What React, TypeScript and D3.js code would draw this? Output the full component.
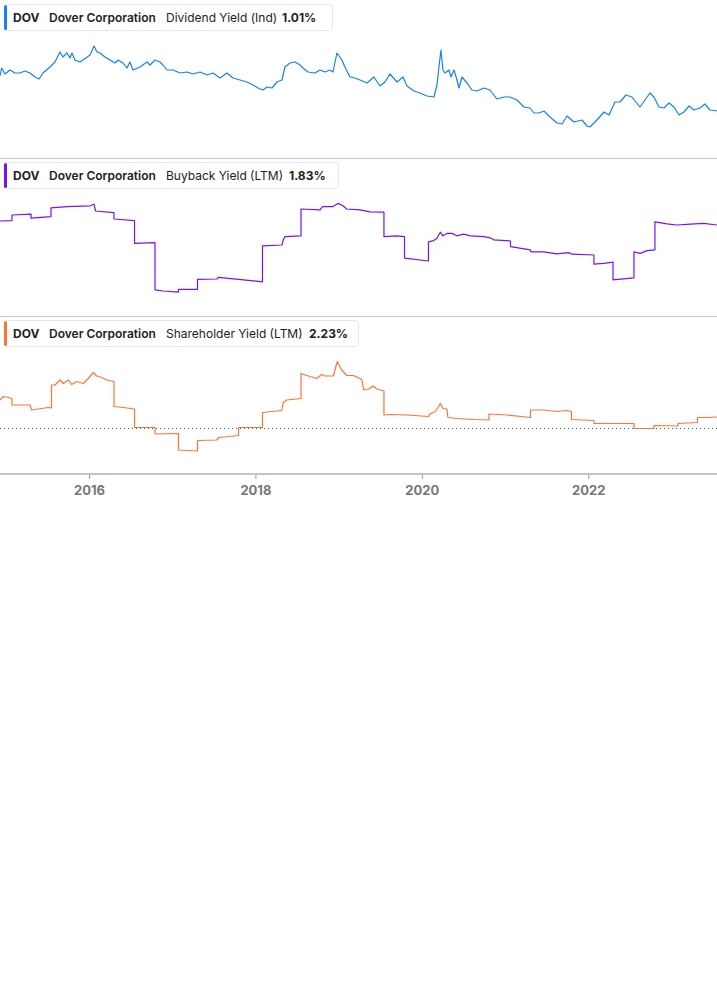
import React, { useEffect } from "react";
import * as d3 from "d3";

// x in decimal years, y in percent
const yearDomain = [2014.924, 2023.542];
const tickYears = [2016, 2018, 2020, 2022];

const dividendYield: [number, number][] = [
  [2014.924, 1.71], [2014.944, 1.87], [2014.984, 1.75], [2015.044, 1.83], [2015.104, 1.77],
  [2015.164, 1.77], [2015.224, 1.81], [2015.285, 1.77], [2015.345, 1.69], [2015.393, 1.65],
  [2015.441, 1.77], [2015.525, 1.89], [2015.585, 1.99], [2015.645, 2.19], [2015.681, 2.09],
  [2015.729, 2.17], [2015.765, 2.07], [2015.789, 2.17], [2015.825, 2.03], [2015.886, 1.99],
  [2015.958, 2.07], [2016.006, 2.13], [2016.054, 2.31], [2016.09, 2.19], [2016.126, 2.17],
  [2016.186, 2.09], [2016.246, 2.03], [2016.306, 1.97], [2016.342, 2.03], [2016.402, 1.97],
  [2016.45, 1.87], [2016.486, 1.99], [2016.522, 1.83], [2016.607, 1.89], [2016.691, 1.99],
  [2016.727, 1.93], [2016.787, 2.03], [2016.847, 1.99], [2016.883, 1.93], [2016.931, 1.83],
  [2017.003, 1.83], [2017.087, 1.77], [2017.172, 1.79], [2017.244, 1.75], [2017.328, 1.79],
  [2017.412, 1.73], [2017.484, 1.77], [2017.568, 1.67], [2017.652, 1.77], [2017.724, 1.67],
  [2017.809, 1.63], [2017.893, 1.59], [2017.965, 1.53], [2018.025, 1.47], [2018.085, 1.43],
  [2018.133, 1.49], [2018.193, 1.47], [2018.253, 1.59], [2018.313, 1.63], [2018.349, 1.89],
  [2018.409, 1.97], [2018.469, 1.99], [2018.53, 1.93], [2018.566, 1.87], [2018.626, 1.79],
  [2018.71, 1.77], [2018.77, 1.83], [2018.83, 1.79], [2018.89, 1.83], [2018.926, 1.79],
  [2018.974, 2.17], [2019.034, 2.03], [2019.07, 1.89], [2019.131, 1.69], [2019.191, 1.67],
  [2019.251, 1.63], [2019.335, 1.57], [2019.419, 1.69], [2019.491, 1.51], [2019.551, 1.59],
  [2019.611, 1.75], [2019.696, 1.59], [2019.768, 1.69], [2019.816, 1.51], [2019.9, 1.41],
  [2019.972, 1.37], [2020.056, 1.31], [2020.14, 1.29], [2020.176, 1.53], [2020.2, 1.89],
  [2020.224, 2.23], [2020.248, 1.83], [2020.272, 1.77], [2020.32, 1.83], [2020.345, 1.69],
  [2020.381, 1.83], [2020.417, 1.63], [2020.441, 1.47], [2020.477, 1.69], [2020.537, 1.57],
  [2020.597, 1.43], [2020.657, 1.41], [2020.741, 1.47], [2020.813, 1.43], [2020.897, 1.25],
  [2020.982, 1.29], [2021.054, 1.29], [2021.138, 1.23], [2021.222, 1.09], [2021.294, 1.07],
  [2021.342, 0.97], [2021.402, 0.97], [2021.462, 1.01], [2021.534, 0.89], [2021.619, 0.77],
  [2021.679, 0.75], [2021.739, 0.91], [2021.823, 0.79], [2021.919, 0.83], [2021.979, 0.71],
  [2022.015, 0.69], [2022.099, 0.83], [2022.184, 0.99], [2022.244, 0.93], [2022.316, 1.19],
  [2022.376, 1.19], [2022.448, 1.33], [2022.52, 1.29], [2022.616, 1.09], [2022.676, 1.23],
  [2022.736, 1.37], [2022.784, 1.29], [2022.844, 1.09], [2022.904, 1.07], [2022.965, 1.17],
  [2023.025, 1.09], [2023.085, 0.93], [2023.145, 0.99], [2023.205, 1.11], [2023.265, 1.03],
  [2023.337, 1.07], [2023.397, 1.15], [2023.457, 1.03], [2023.542, 1.01],
];

const buybackYield: [number, number][] = [
  [2014.924, 1.93], [2015.068, 1.94], [2015.068, 2.08], [2015.297, 2.10], [2015.297, 2.0],
  [2015.537, 2.04], [2015.537, 2.26], [2015.729, 2.29], [2016.006, 2.31], [2016.054, 2.35],
  [2016.072, 2.18], [2016.294, 2.14], [2016.294, 1.98], [2016.541, 1.94], [2016.541, 1.37],
  [2016.787, 1.39], [2016.787, 0.21], [2016.883, 0.18], [2017.069, 0.15], [2017.069, 0.22],
  [2017.298, 0.22], [2017.298, 0.47], [2017.532, 0.48], [2017.548, 0.52], [2018.079, 0.41],
  [2018.079, 1.31], [2018.313, 1.33], [2018.329, 1.46], [2018.349, 1.54], [2018.542, 1.56],
  [2018.542, 2.23], [2018.77, 2.21], [2018.802, 2.29], [2018.926, 2.29], [2018.986, 2.37],
  [2019.046, 2.31], [2019.091, 2.23], [2019.251, 2.21], [2019.371, 2.16], [2019.539, 2.15],
  [2019.539, 1.54], [2019.696, 1.56], [2019.786, 1.54], [2019.786, 1.0], [2020.074, 0.93],
  [2020.074, 1.41], [2020.137, 1.44], [2020.176, 1.5], [2020.216, 1.65], [2020.248, 1.56],
  [2020.296, 1.62], [2020.357, 1.62], [2020.417, 1.56], [2020.497, 1.6], [2020.577, 1.56],
  [2020.738, 1.54], [2020.817, 1.51], [2020.858, 1.46], [2021.06, 1.43], [2021.06, 1.29],
  [2021.298, 1.21], [2021.306, 1.16], [2021.459, 1.16], [2021.619, 1.11], [2021.759, 1.14],
  [2021.799, 1.1], [2022.063, 1.08], [2022.063, 0.85], [2022.18, 0.87], [2022.292, 0.9],
  [2022.292, 0.46], [2022.544, 0.51], [2022.544, 1.16], [2022.62, 1.12], [2022.7, 1.19],
  [2022.796, 1.21], [2022.796, 1.91], [2022.94, 1.86], [2023.061, 1.83], [2023.221, 1.85],
  [2023.382, 1.87], [2023.542, 1.83],
];

const shareholderYield: [number, number][] = [
  [2014.924, 2.57], [2014.964, 2.64], [2015.024, 2.62], [2015.068, 2.6], [2015.068, 2.47],
  [2015.285, 2.47], [2015.303, 2.37], [2015.505, 2.42], [2015.543, 2.41], [2015.543, 2.87],
  [2015.585, 2.87], [2015.645, 2.97], [2015.685, 2.9], [2015.745, 2.97], [2015.786, 2.88],
  [2015.846, 2.94], [2015.925, 2.9], [2015.985, 3.0], [2016.045, 3.12], [2016.086, 3.05],
  [2016.146, 3.02], [2016.206, 2.97], [2016.294, 2.94], [2016.294, 2.44], [2016.406, 2.42],
  [2016.541, 2.39], [2016.541, 2.02], [2016.787, 2.02], [2016.787, 1.89], [2017.069, 1.9],
  [2017.069, 1.57], [2017.298, 1.55], [2017.298, 1.76], [2017.528, 1.77], [2017.556, 1.82],
  [2017.791, 1.86], [2017.791, 2.02], [2018.079, 2.02], [2018.079, 2.32], [2018.31, 2.36],
  [2018.329, 2.52], [2018.37, 2.57], [2018.542, 2.6], [2018.542, 3.1], [2018.65, 3.04],
  [2018.73, 3.0], [2018.79, 3.08], [2018.83, 3.05], [2018.93, 3.05], [2018.978, 3.34],
  [2019.031, 3.17], [2019.091, 3.06], [2019.17, 3.06], [2019.251, 3.0], [2019.275, 2.97],
  [2019.295, 2.77], [2019.355, 2.79], [2019.407, 2.85], [2019.455, 2.79], [2019.539, 2.75],
  [2019.539, 2.27], [2019.615, 2.28], [2019.816, 2.27], [2020.076, 2.24], [2020.088, 2.29],
  [2020.156, 2.34], [2020.197, 2.44], [2020.216, 2.5], [2020.248, 2.4], [2020.296, 2.39],
  [2020.308, 2.22], [2020.417, 2.2], [2020.617, 2.18], [2020.801, 2.17], [2020.801, 2.29],
  [2021.018, 2.27], [2021.3, 2.22], [2021.3, 2.37], [2021.459, 2.37], [2021.619, 2.34],
  [2021.739, 2.36], [2021.793, 2.34], [2021.793, 2.18], [2022.063, 2.16], [2022.063, 2.1],
  [2022.544, 2.1], [2022.544, 2.0], [2022.784, 2.0], [2022.784, 2.06], [2023.073, 2.05],
  [2023.073, 2.1], [2023.307, 2.12], [2023.307, 2.22], [2023.421, 2.22], [2023.542, 2.23],
];

const ticker = "DOV";
const company = "Dover Corporation";
const metrics = ["Dividend Yield (Ind)", "Buyback Yield (LTM)", "Shareholder Yield (LTM)"];
const latest = ["1.01%", "1.83%", "2.23%"];
const colors = ["#1283f6", "#7b10f7", "#ff7436"];
const referenceLine = 2.0;

const W = 717;
const H = 1005;
const FONT = "Inter, 'Noto Sans', sans-serif";

const panels = [
  { data: dividendYield, top: 0, domain: [0, 2.7], range: [161.5, 26.5], boxW: 328, valX: 282 },
  { data: buybackYield, top: 158, domain: [0, 3.5], range: [298.2, 158.2], boxW: 334, valX: 289 },
  { data: shareholderYield, top: 316, domain: [0, 2], range: [528.5, 428.5], boxW: 354, valX: 309 },
];

export default function App() {
  useEffect(() => {
    document.body.style.margin = "0";
  }, []);

  const x = d3.scaleLinear().domain(yearDomain).range([0, W]);

  return (
    <svg width={W} height={H} style={{ display: "block", background: "#fff" }} fontFamily={FONT}>
      {panels.map((p, i) => {
        const y = d3.scaleLinear().domain(p.domain).range(p.range);
        const line = d3.line<[number, number]>().x((d) => x(d[0])).y((d) => y(d[1]));
        return (
          <g key={i}>
            {i === 2 && (
              <line x1={0} x2={W} y1={y(referenceLine)} y2={y(referenceLine)}
                stroke="#555" strokeWidth={1} strokeDasharray="1,3" />
            )}
            <path d={line(p.data) || ""} fill="none" stroke={colors[i]} strokeWidth={1.2}
              strokeLinejoin="round" />
            {i < 2 && (
              <line x1={0} x2={W} y1={p.top + 158.5} y2={p.top + 158.5} stroke="#c9c9c9" strokeWidth={1} />
            )}
            <g transform={`translate(4,${p.top + 4})`}>
              <rect x={0.5} y={0.5} width={p.boxW} height={26} rx={3} fill="#fff" stroke="#e6e6e6" />
              <rect x={0} y={1} width={3} height={25} rx={1.5} fill={colors[i]} />
              <text y={17.5} fontSize={12} fill="#222">
                <tspan x={9} fontWeight={700}>{ticker}</tspan>
                <tspan x={45} fontWeight={600}>{company}</tspan>
                <tspan x={162} fontWeight={400}>{metrics[i]}</tspan>
                <tspan x={p.valX - 4} fontWeight={700}>{latest[i]}</tspan>
              </text>
            </g>
          </g>
        );
      })}
      <line x1={0} x2={W} y1={474} y2={474} stroke="#c4c4c4" strokeWidth={2} />
      {tickYears.map((t) => (
        <g key={t} transform={`translate(${x(t)},0)`}>
          <line y1={475} y2={479} stroke="#999" strokeWidth={1} />
          <text y={495} textAnchor="middle" fontSize={13} fontWeight={700} fill="#777">{t}</text>
        </g>
      ))}
    </svg>
  );
}
